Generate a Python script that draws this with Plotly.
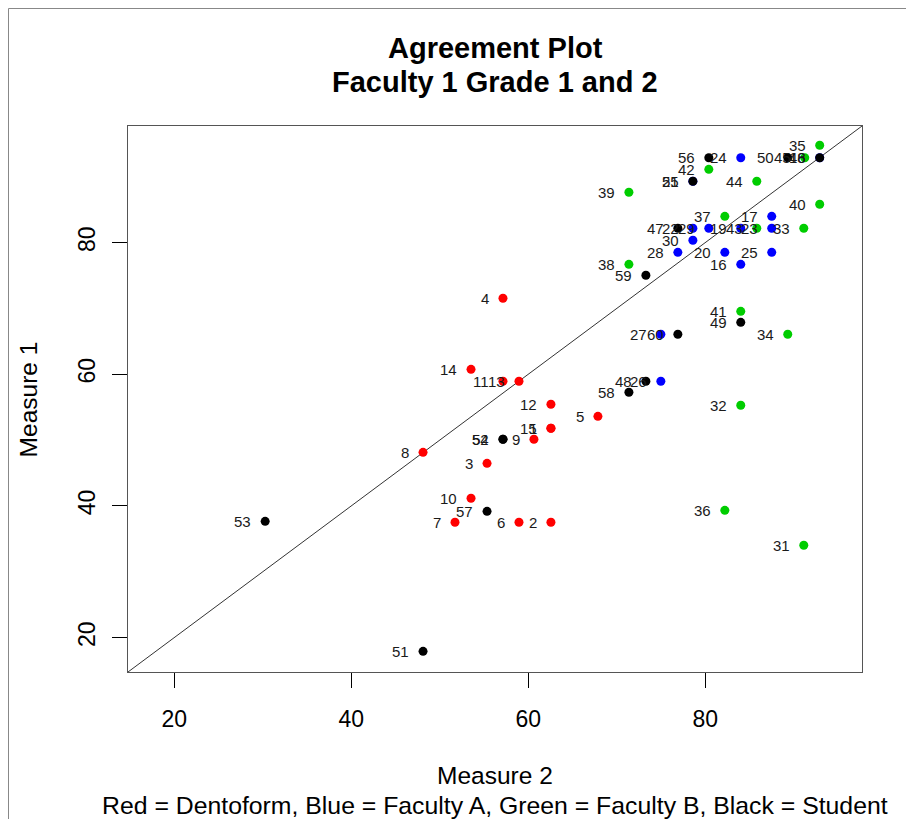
import plotly.graph_objects as go

# ---- data (Measure 2 = x, Measure 1 = y) ----
red_ids = [1, 2, 3, 4, 5, 6, 7, 8, 9, 10, 11, 12, 13, 14, 15]
red_x = [62.56, 62.56, 55.34, 57.14, 67.87, 58.95, 51.72, 48.11, 60.64, 53.53, 57.14, 62.56, 58.95, 53.53, 62.56]
red_y = [51.79, 37.51, 46.47, 71.54, 53.61, 37.51, 37.51, 48.14, 50.12, 41.16, 58.93, 55.44, 58.93, 60.75, 51.79]

blue_ids = [16, 17, 18, 19, 20, 21, 22, 23, 24, 25, 26, 27, 28, 29, 30]
blue_x = [84.01, 87.51, 92.93, 84.01, 82.21, 78.60, 78.60, 87.51, 84.01, 87.51, 74.98, 74.98, 76.90, 80.40, 78.60]
blue_y = [76.70, 83.99, 92.88, 82.17, 78.52, 89.31, 82.17, 82.17, 92.88, 78.52, 58.93, 66.07, 78.52, 82.17, 80.35]

green_ids = [31, 32, 33, 34, 35, 36, 37, 38, 39, 40, 41, 42, 43, 44, 45]
green_x = [91.13, 84.01, 91.13, 89.32, 92.93, 82.21, 82.21, 71.37, 71.37, 92.93, 84.01, 80.40, 85.82, 85.82, 91.24]
green_y = [34.02, 55.29, 82.17, 66.07, 94.78, 39.33, 83.99, 76.70, 87.64, 85.82, 69.56, 91.13, 82.17, 89.31, 92.88]

black_ids = [46, 47, 48, 49, 50, 51, 52, 53, 54, 55, 56, 57, 58, 59, 60]
black_x = [92.93, 76.90, 73.29, 84.01, 89.32, 48.11, 57.14, 30.27, 57.14, 78.60, 80.40, 55.34, 71.37, 73.29, 76.90]
black_y = [92.88, 82.17, 58.93, 67.89, 92.88, 17.91, 50.12, 37.66, 50.12, 89.31, 92.88, 39.18, 57.26, 75.03, 66.07]

x_ticks = [20, 40, 60, 80]
y_ticks = [20, 40, 60, 80]
axis_range = [14.77, 97.71]

title_lines = ["Agreement Plot", "Faculty 1 Grade 1 and 2"]
x_title = "Measure 2"
y_title = "Measure 1"
sub_title = "Red = Dentoform, Blue = Faculty A, Green = Faculty B, Black = Student"

FONT = "Liberation Sans, Arial, sans-serif"

groups = [
    ("Dentoform", red_ids, red_x, red_y, "#FF0000"),
    ("Faculty A", blue_ids, blue_x, blue_y, "#0000FF"),
    ("Faculty B", green_ids, green_x, green_y, "#00CD00"),
    ("Student", black_ids, black_x, black_y, "#000000"),
]

fig = go.Figure()

annotations = []
for name, ids, xs, ys, col in groups:
    fig.add_trace(go.Scatter(
        x=xs, y=ys, mode="markers", name=name,
        marker=dict(color=col, size=9, line=dict(width=0)),
        showlegend=False, hoverinfo="x+y+name",
    ))
for name, ids, xs, ys, col in groups:
    for i, xv, yv in zip(ids, xs, ys):
        annotations.append(dict(
            x=xv, y=yv, xref="x", yref="y", text=str(i), showarrow=False,
            xanchor="right", yanchor="middle", xshift=-12,
            font=dict(family=FONT, size=15, color="#1a1a1a"),
        ))

# diagonal y = x line across the plot region
fig.add_shape(type="line", xref="x", yref="y",
              x0=axis_range[0], y0=axis_range[0], x1=axis_range[1], y1=axis_range[1],
              line=dict(color="#333333", width=1), layer="below")

# outer frame of the image
fig.add_shape(type="rect", xref="paper", yref="paper",
              x0=-0.1628, x1=1.2, y0=-0.4, y1=1.2152,
              line=dict(color="#888888", width=1), layer="below")

# titles
annotations.append(dict(x=0.5, y=1.1423, xref="paper", yref="paper", text="<b>" + title_lines[0] + "</b>",
                        showarrow=False, xanchor="center", yanchor="middle",
                        font=dict(family=FONT, size=29, color="black")))
annotations.append(dict(x=0.5, y=1.080, xref="paper", yref="paper", text="<b>" + title_lines[1] + "</b>",
                        showarrow=False, xanchor="center", yanchor="middle",
                        font=dict(family=FONT, size=29, color="black")))
annotations.append(dict(x=0.5, y=-0.1892, xref="paper", yref="paper", text=x_title,
                        showarrow=False, xanchor="center", yanchor="middle",
                        font=dict(family=FONT, size=24.5, color="black")))
annotations.append(dict(x=0.5, y=-0.2441, xref="paper", yref="paper", text=sub_title,
                        showarrow=False, xanchor="center", yanchor="middle",
                        font=dict(family=FONT, size=24.8, color="black")))
annotations.append(dict(x=-0.1357, y=0.5, xref="paper", yref="paper", text=y_title,
                        showarrow=False, xanchor="center", yanchor="middle", textangle=-90,
                        font=dict(family=FONT, size=24.5, color="black")))

axis_common = dict(
    range=axis_range, showgrid=False, zeroline=False,
    showline=True, mirror=True, linecolor="#555555", linewidth=1,
    ticks="outside", ticklen=15, tickwidth=1, tickcolor="#000000",
    tickfont=dict(family=FONT, size=23, color="black"),
)

fig.update_layout(
    width=906, height=811,
    margin=dict(l=120, r=52, t=118, b=147, autoexpand=False),
    paper_bgcolor="white", plot_bgcolor="white",
    xaxis=dict(**axis_common, tickvals=x_ticks, ticklabelstandoff=11),
    yaxis=dict(**axis_common, tickvals=y_ticks, tickangle=-90, ticklabelstandoff=8),
    annotations=annotations,
    showlegend=False,
)

fig.write_html("out.html")
